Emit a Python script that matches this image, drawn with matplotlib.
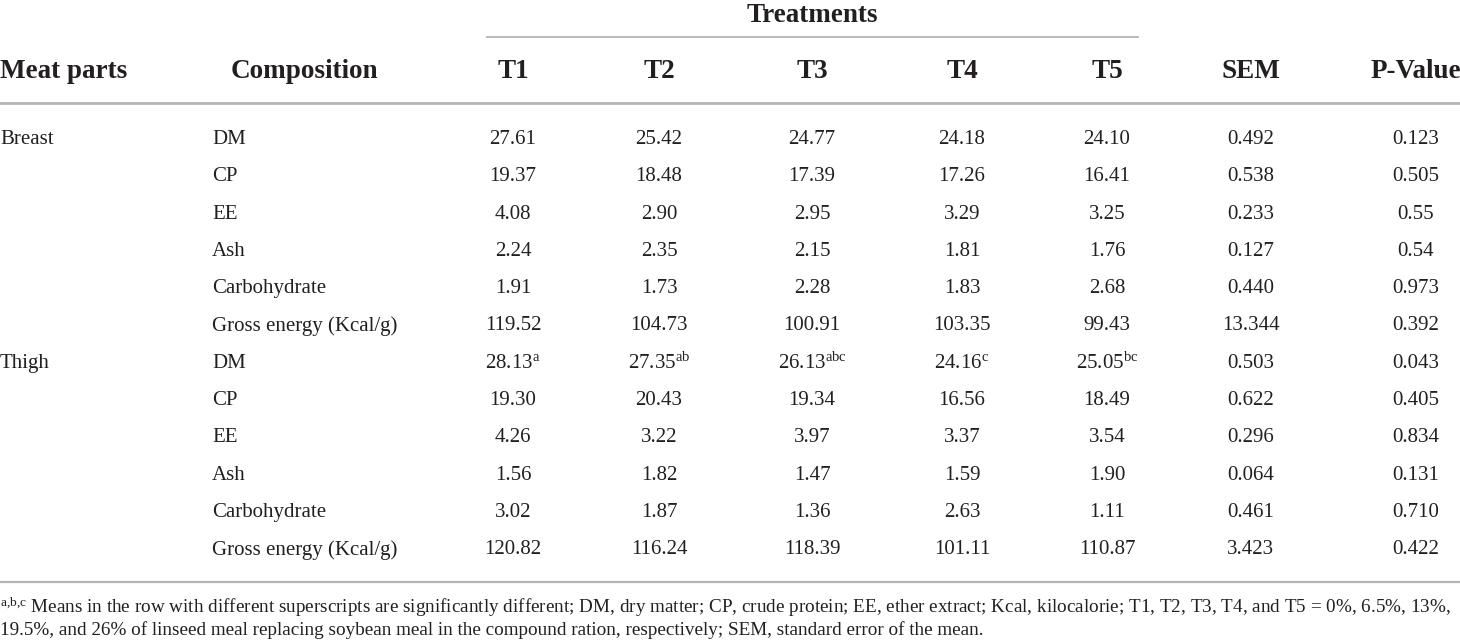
import matplotlib.pyplot as plt

plt.rcParams['font.family'] = ['Liberation Serif', 'DejaVu Serif']
plt.rcParams['mathtext.fontset'] = 'custom'
plt.rcParams['mathtext.rm'] = 'Liberation Serif'
plt.rcParams['mathtext.it'] = 'Liberation Serif:italic'

# table content
columns = ["T1", "T2", "T3", "T4", "T5", "SEM", "P-Value"]
parts = ["Breast", "", "", "", "", "", "Thigh", "", "", "", "", ""]
composition = ["DM", "CP", "EE", "Ash", "Carbohydrate", "Gross energy (Kcal/g)"] * 2
t1 = ["27.61", "19.37", "4.08", "2.24", "1.91", "119.52",
      "28.13^a", "19.30", "4.26", "1.56", "3.02", "120.82"]
t2 = ["25.42", "18.48", "2.90", "2.35", "1.73", "104.73",
      "27.35^ab", "20.43", "3.22", "1.82", "1.87", "116.24"]
t3 = ["24.77", "17.39", "2.95", "2.15", "2.28", "100.91",
      "26.13^abc", "19.34", "3.97", "1.47", "1.36", "118.39"]
t4 = ["24.18", "17.26", "3.29", "1.81", "1.83", "103.35",
      "24.16^c", "16.56", "3.37", "1.59", "2.63", "101.11"]
t5 = ["24.10", "16.41", "3.25", "1.76", "2.68", "99.43",
      "25.05^bc", "18.49", "3.54", "1.90", "1.11", "110.87"]
sem = ["0.492", "0.538", "0.233", "0.127", "0.440", "13.344",
       "0.503", "0.622", "0.296", "0.064", "0.461", "3.423"]
pval = ["0.123", "0.505", "0.55", "0.54", "0.973", "0.392",
        "0.043", "0.405", "0.834", "0.131", "0.710", "0.422"]
footnote = [
    "$^{\\mathrm{a{,}b{,}c}}$ Means in the row with different superscripts are significantly different; "
    "DM, dry matter; CP, crude protein; EE, ether extract; Kcal, kilocalorie; T1, T2, T3, T4, and T5 = 0%, 6.5%, 13%,",
    "19.5%, and 26% of linseed meal replacing soybean meal in the compound ration, respectively; "
    "SEM, standard error of the mean.",
]

txt = "#231f20"
line_c = "#b4b4b4"

fig = plt.figure(figsize=(14.6, 6.41), dpi=100)
ax = fig.add_axes([0, 0, 1, 1])
ax.set_xlim(0, 1460)
ax.set_ylim(641, 0)
ax.axis("off")

col_x = [513, 659, 812, 962, 1107, 1251, 1416]
body_fs = 15
head_fs = 19.5


def fmt(s):
    if "^" in s:
        num, sup = s.split("^")
        return num + "$^{\\mathrm{" + sup + "}}$"
    return s


# header
ax.text(812, 13, "Treatments", ha="center", va="center_baseline", fontsize=head_fs,
        fontweight="bold", color=txt)
ax.plot([487, 1138], [37, 37], color=line_c, lw=1.3)
ax.text(0, 68, "Meat parts", ha="left", va="center_baseline", fontsize=head_fs,
        fontweight="bold", color=txt)
ax.text(304, 68, "Composition", ha="center", va="center_baseline", fontsize=head_fs,
        fontweight="bold", color=txt)
for x, c in zip(col_x, columns):
    ax.text(x, 68, c, ha="center", va="center_baseline", fontsize=head_fs,
            fontweight="bold", color=txt)
ax.plot([0, 1460], [103, 103], color=line_c, lw=2)

# body rows
y0, dy = 137, 37.3
table_cols = [t1, t2, t3, t4, t5, sem, pval]
for i in range(len(composition)):
    y = y0 + i * dy
    if parts[i]:
        ax.text(0, y, parts[i], ha="left", va="center_baseline", fontsize=body_fs, color=txt)
    ax.text(212, y, composition[i], ha="left", va="center_baseline", fontsize=body_fs, color=txt)
    for x, col in zip(col_x, table_cols):
        ax.text(x, y, fmt(col[i]), ha="center", va="center_baseline", fontsize=body_fs, color=txt)

ax.plot([0, 1460], [582, 582], color=line_c, lw=1.6)

# footnote
for j, line in enumerate(footnote):
    ax.text(0, 604 + j * 24, line, ha="left", va="center_baseline", fontsize=13.8, color=txt)

fig.savefig("out.png", dpi=100)
